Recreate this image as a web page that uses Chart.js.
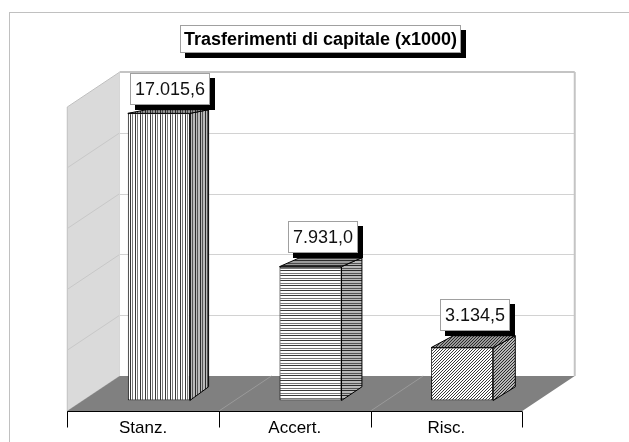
<!DOCTYPE html>
<html>
<head>
<meta charset="utf-8">
<script src="https://cdn.jsdelivr.net/npm/chart.js@4.4.1/dist/chart.umd.min.js"></script>
<style>
  html, body { margin: 0; padding: 0; background: #ffffff; }
  canvas { display: block; }
</style>
</head>
<body>
<canvas id="c" width="629" height="442"></canvas>
<script>
// Data
const categories = ['Stanz.', 'Accert.', 'Risc.'];
const values = [17015.6, 7931.0, 3134.5];
const titleText = 'Trasferimenti di capitale (x1000)';
const axisMax = 20000;
const gridStep = 4000;
const fillKinds = ['v', 'h', 'd'];

// Italian number format: 17.015,6
function fmtIt(v) {
  const parts = v.toFixed(1).split('.');
  return parts[0].replace(/\B(?=(\d{3})+(?!\d))/g, '.') + ',' + parts[1];
}

const canvas = document.getElementById('c');
const mainCtx = canvas.getContext('2d');

// Small repeating tiles: vertical stripes, horizontal stripes, diagonal hatch
function makePattern(kind, bg, fg, fg2) {
  const n = kind === 'd' ? 3 : 5;
  const t = document.createElement('canvas');
  t.width = n; t.height = n;
  const g = t.getContext('2d');
  g.fillStyle = bg; g.fillRect(0, 0, n, n);
  for (let y = 0; y < n; y++) {
    for (let x = 0; x < n; x++) {
      let col = null;
      if (kind === 'v') col = x === 0 ? fg : x === 2 ? fg2 : null;
      else if (kind === 'h') col = y === 0 ? fg : y === 3 ? fg2 : null;
      else col = (x + y) % 3 === 2 ? fg : null;
      if (col) { g.fillStyle = col; g.fillRect(x, y, 1, 1); }
    }
  }
  return mainCtx.createPattern(t, 'repeat');
}

const frontFill = fillKinds.map(k => makePattern(k, '#ffffff', '#3a3a3a', '#7a7a7a'));
const sideFill = fillKinds.map(k => makePattern(k, '#b8b8b8', '#2a2a2a', '#555555'));
const topFill = fillKinds.map(k => makePattern(k, '#9a9a9a', '#2a2a2a', '#4a4a4a'));

// Scene geometry (pixels)
const PAD = { top: 63, bottom: 41.5, left: 83, right: 91 };
const WALL_BOTTOM_PX = 376;   // back edge of the floor
const WALL_TOP_PX = 72;       // top of the back wall
const FRONT_DEPTH = 10.5;     // floor front edge in front of the bar plane
const DEPTH_SLOPE = 1.5;      // horizontal shift per pixel of depth

// Wall scale range so that 0 sits on the floor's back edge and axisMax on the wall top
const plotBottom = 442 - PAD.bottom;
const plotH = plotBottom - PAD.top;
const wallK = (WALL_BOTTOM_PX - WALL_TOP_PX) / axisMax;
const wallMin = -(plotBottom - WALL_BOTTOM_PX) / wallK;
const wallMax = wallMin + plotH / wallK;

function dyAt(y) { return -(y - 9) * 0.035; }
function dxAt(x) { return 17 + x * 0.011; }

function poly(ctx, pts, fill, stroke, lw) {
  ctx.beginPath();
  ctx.moveTo(pts[0][0], pts[0][1]);
  for (let i = 1; i < pts.length; i++) ctx.lineTo(pts[i][0], pts[i][1]);
  ctx.closePath();
  if (fill) { ctx.fillStyle = fill; ctx.fill(); }
  if (stroke) { ctx.strokeStyle = stroke; ctx.lineWidth = lw || 1; ctx.stroke(); }
}

function line(ctx, x1, y1, x2, y2, color, lw) {
  ctx.beginPath();
  ctx.moveTo(x1, y1); ctx.lineTo(x2, y2);
  ctx.strokeStyle = color; ctx.lineWidth = lw || 1;
  ctx.stroke();
}

function shadowBox(ctx, x, y, w, h, off) {
  ctx.fillStyle = '#000000';
  ctx.fillRect(x + off, y + off, w, h);
  ctx.fillStyle = '#ffffff';
  ctx.fillRect(x, y, w, h);
  ctx.strokeStyle = '#a0a0a0';
  ctx.lineWidth = 1;
  ctx.strokeRect(x + 0.5, y + 0.5, w - 1, h - 1);
}

const scene3d = {
  id: 'scene3d',
  beforeDatasetsDraw(chart) {
    const { ctx, chartArea: a, scales } = chart;
    const xs = scales.x, wall = scales.wall;
    const backY = wall.getPixelForValue(0);
    const topY = wall.getPixelForValue(axisMax);
    const backDepth = a.bottom - backY;
    const frontY = a.bottom + FRONT_DEPTH;
    const bL = a.left + backDepth * DEPTH_SLOPE, bR = a.right + backDepth * DEPTH_SLOPE;
    const fL = a.left - FRONT_DEPTH * DEPTH_SLOPE, fR = a.right - FRONT_DEPTH * DEPTH_SLOPE;
    const sdy = frontY - backY;
    const n = categories.length;
    const catW = (a.right - a.left) / n;

    ctx.save();
    // outer frame
    ctx.strokeStyle = '#c0c0c0';
    ctx.lineWidth = 1;
    ctx.strokeRect(9.5, 12.5, 700, 500);

    // left side wall
    poly(ctx, [[fL, topY + sdy], [bL, topY], [bL, backY], [fL, frontY]], '#dadada', '#c0c0c0', 1);
    for (let v = gridStep; v < axisMax; v += gridStep) {
      const y = wall.getPixelForValue(v);
      line(ctx, bL, y, fL, y + sdy, '#c8c8c8', 1);
    }

    // back wall with gridlines
    ctx.fillStyle = '#ffffff';
    ctx.fillRect(bL, topY, bR - bL, backY - topY);
    for (let v = gridStep; v < axisMax; v += gridStep) {
      const y = Math.round(wall.getPixelForValue(v)) + 0.5;
      line(ctx, bL, y, bR, y, '#d2d2d2', 1);
    }
    line(ctx, bL, topY, bR, topY, '#c4c4c4', 2);
    line(ctx, bR, topY, bR, backY, '#c4c4c4', 2);

    // floor
    poly(ctx, [[bL, backY], [bR, backY], [fR, frontY], [fL, frontY]], '#808080');
    for (let i = 1; i < n; i++) {
      const xb = a.left + i * catW;
      line(ctx, xb - FRONT_DEPTH * DEPTH_SLOPE, frontY, xb + backDepth * DEPTH_SLOPE, backY, '#9a9a9a', 1);
    }

    // category axis along the front edge
    const ay = Math.round(frontY) + 0.5;
    line(ctx, fL, ay, fR, ay, '#000000', 1);
    for (let i = 0; i <= n; i++) {
      const tx = Math.round(a.left + i * catW - FRONT_DEPTH * DEPTH_SLOPE) + 0.5;
      line(ctx, tx, ay, tx, ay + 16, '#000000', 1);
    }
    ctx.fillStyle = '#000000';
    ctx.font = '17px "Liberation Sans", Arial, sans-serif';
    ctx.textAlign = 'center';
    ctx.textBaseline = 'alphabetic';
    categories.forEach((c, i) => {
      ctx.fillText(c, xs.getPixelForValue(i) - FRONT_DEPTH * DEPTH_SLOPE, frontY + 22);
    });
    ctx.restore();
  },
  afterDatasetsDraw(chart) {
    const { ctx } = chart;
    const bars = chart.getDatasetMeta(0).data;
    ctx.save();
    bars.forEach((bar, i) => {
      const xl = bar.x - bar.width / 2, xr = bar.x + bar.width / 2;
      const yT = bar.y, yB = bar.base;
      const dx = dxAt(bar.x), dyT = dyAt(yT), dyB = dyAt(yB);
      // side face
      poly(ctx, [[xr, yT], [xr + dx, yT + dyT], [xr + dx, yB + dyB], [xr, yB]], sideFill[i], '#000000', 1);
      // top face
      poly(ctx, [[xl, yT], [xl + dx, yT + dyT], [xr + dx, yT + dyT], [xr, yT]], topFill[i], '#000000', 1);

      // value label
      ctx.font = '18px "Liberation Sans", Arial, sans-serif';
      const txt = fmtIt(values[i]);
      const w = Math.round(ctx.measureText(txt).width + 10);
      const h = 32;
      const cx = bar.x + dx / 2 + 2;
      const bx = Math.round(cx - w / 2);
      const by = Math.round(yT + dyT - 5 - h);
      shadowBox(ctx, bx, by, w, h, 5);
      ctx.fillStyle = '#111111';
      ctx.textAlign = 'center';
      ctx.textBaseline = 'middle';
      ctx.fillText(txt, bx + w / 2, by + h / 2 + 1);
    });

    // title
    ctx.font = 'bold 18px "Liberation Sans", Arial, sans-serif';
    const tw = Math.round(ctx.measureText(titleText).width + 8);
    const th = 28;
    const tx = Math.round(320.5 - tw / 2), ty = 25;
    shadowBox(ctx, tx, ty, tw, th, 5);
    ctx.fillStyle = '#000000';
    ctx.textAlign = 'center';
    ctx.textBaseline = 'middle';
    ctx.fillText(titleText, tx + tw / 2, ty + th / 2 + 1);
    ctx.restore();
  }
};

new Chart(canvas, {
  type: 'bar',
  data: {
    labels: categories,
    datasets: [{
      data: values,
      backgroundColor: frontFill,
      borderColor: '#000000',
      borderWidth: 1,
      borderSkipped: false,
      categoryPercentage: 1,
      barPercentage: 0.409
    }]
  },
  options: {
    responsive: false,
    animation: false,
    devicePixelRatio: 1,
    events: [],
    layout: { padding: PAD },
    scales: {
      x: { display: false, offset: true },
      y: { display: false, min: 0, max: axisMax },
      wall: { type: 'linear', display: false, min: wallMin, max: wallMax, position: 'left' }
    },
    plugins: {
      legend: { display: false },
      tooltip: { enabled: false },
      title: { display: false }
    }
  },
  plugins: [scene3d]
});
</script>
</body>
</html>
